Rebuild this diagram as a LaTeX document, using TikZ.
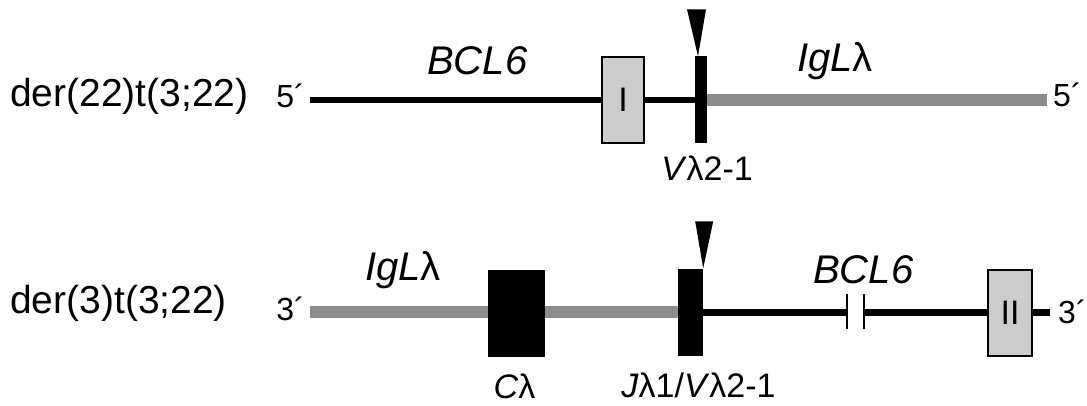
\documentclass[tikz,border=0pt]{standalone}
\usepackage{fontspec}
\setmainfont{Liberation Sans}
\usepackage{xcolor}
\usetikzlibrary{positioning,calc,backgrounds}
\definecolor{iglgrey}{HTML}{8C8C8C}
\definecolor{exonfill}{HTML}{CCCCCC}

\begin{document}
\begin{tikzpicture}[
  x=1pt, y=-1pt,
  der/.style={font=\fontsize{39}{40}\selectfont, inner sep=0pt},
  gene/.style={font=\fontsize{40}{42}\selectfont\itshape, inner sep=0pt},
  seg/.style={font=\fontsize{34}{36}\selectfont, inner sep=0pt},
  prm/.style={font=\fontsize{32}{34}\selectfont, inner sep=0pt},
  exon/.style={draw=black, line width=1.5pt, fill=exonfill, minimum width=42pt, minimum height=86pt, inner sep=0pt, font=\fontsize{34}{36}\selectfont},
  bar/.style={fill=black, minimum height=87pt, inner sep=0pt},
  bcl/.style={line width=6pt, draw=black},
  igl/.style={line width=12pt, draw=iglgrey},
  brk/.style={line width=2pt, draw=black}
]
\useasboundingbox (0,0) rectangle (1087,406);

\node[der, anchor=base west] (d1) at (10,107) {der(22)t(3;22)};
\node[prm, anchor=base east] (p1) at (305,108) {5´};
\node[prm, anchor=base west] (p2) at (1053,107) {5´};
\coordinate (s1) at (310,100);
\coordinate (e1) at (1047,100);
\node[exon] (x1) at (623,100) {I};
\node[bar, minimum width=12pt] (v1) at (701,100) {};
\node[gene, anchor=base west] (g1) at (427,75) {BCL6};
\node[gene, anchor=base west] (g2) at (797,72) {IgL\upshape λ};
\node[seg, below=12pt of v1, xshift=6pt] (l1) {\textit{V}λ2-1};
\fill ($(v1.north)+(-3,0)$) -- ++(-11,-47) -- ++(19,0) -- cycle;

\node[der, anchor=base west] (d2) at (10,313) {der(3)t(3;22)};
\node[prm, anchor=base east] (p3) at (305,320) {3´};
\node[prm, anchor=base west] (p4) at (1058,323) {3´};
\coordinate (s2) at (310,312);
\coordinate (e2) at (1050,312);
\coordinate (k1) at (847,312);
\coordinate (k2) at (864,312);
\node[bar, minimum width=57pt] (cl) at (516.5,313) {};
\node[bar, minimum width=25pt] (j1) at (690.5,312) {};
\node[exon, minimum width=44pt] (x2) at (1010,313) {II};
\node[gene, anchor=base west] (g3) at (365,280) {IgL\upshape λ};
\node[gene, anchor=base west] (g4) at (813,283) {BCL6};
\node[seg, below=17pt of cl, xshift=-2pt] (l2) {\textit{C}λ};
\node[seg, below=17pt of j1, xshift=8pt] (l3) {\textit{J}λ1/\textit{V}λ2-1};
\fill (j1.north east) -- ++(-8,-47) -- ++(18,0) -- cycle;
\foreach \k in {k1,k2}
  \draw[brk] ($(\k)+(0,-18)$) -- ($(\k)+(0,17)$);

\begin{scope}[on background layer]
\draw[bcl] (s1) -- (v1.center);
\draw[igl] (v1.center) -- (e1);
\draw[igl] (s2) -- (j1.center);
\draw[bcl, line width=7pt] (j1.center) -- (k1);
\draw[bcl, line width=7pt] (k2) -- (e2);
\end{scope}
\end{tikzpicture}
\end{document}
